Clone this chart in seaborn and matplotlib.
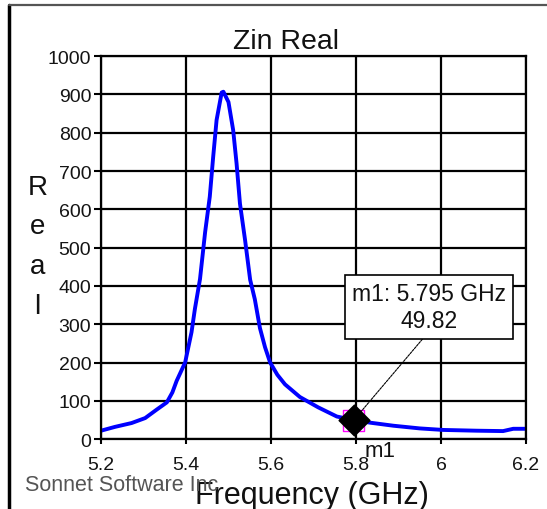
import matplotlib
matplotlib.use("Agg")
import matplotlib.pyplot as plt
from matplotlib.lines import Line2D
import seaborn as sns
import pandas as pd

# Real part of input impedance vs frequency
freq_ghz = [5.200, 5.233, 5.272, 5.304, 5.331, 5.355, 5.368, 5.378, 5.388, 5.398,
            5.413, 5.421, 5.433, 5.445, 5.456, 5.464, 5.472, 5.484, 5.488, 5.500,
            5.511, 5.519, 5.527, 5.539, 5.551, 5.562, 5.574, 5.586, 5.598, 5.615,
            5.633, 5.668, 5.711, 5.755, 5.795, 5.833, 5.888, 5.950, 6.005, 6.084,
            6.146, 6.170, 6.200]
zin_real = [22, 32, 42, 55, 77, 96, 122, 152, 176, 200,
            279, 340, 418, 540, 633, 737, 833, 905, 907, 880,
            807, 720, 615, 520, 416, 365, 290, 240, 200, 168,
            143, 110, 83, 59, 49.82, 43, 35, 28, 24, 22,
            21, 27, 27]

marker_name = "m1"
marker_freq = 5.795
marker_value = 49.82

x_ticks = [5.2, 5.4, 5.6, 5.8, 6.0, 6.2]
x_tick_labels = ["5.2", "5.4", "5.6", "5.8", "6", "6.2"]
y_ticks = [0, 100, 200, 300, 400, 500, 600, 700, 800, 900, 1000]

title = "Zin Real"
x_label = "Frequency (GHz)"
y_label = "Real"
credit = "Sonnet Software Inc"

df = pd.DataFrame({"Frequency": freq_ghz, "Real": zin_real})
mk = pd.DataFrame({"Frequency": [marker_freq], "Real": [marker_value]})

sns.set_theme(style="white")
plt.rcParams["font.family"] = ["Liberation Sans", "DejaVu Sans"]

fig = plt.figure(figsize=(5.47, 5.10), dpi=100)
ax = fig.add_axes([0.1846, 0.137, 0.777, 0.751])

sns.lineplot(data=df, x="Frequency", y="Real", ax=ax, color="#0000ff",
             linewidth=2.8, legend=False)

# marker: magenta square outline under a black diamond
sns.scatterplot(data=mk, x="Frequency", y="Real", ax=ax, marker="s", s=230,
                facecolor="none", edgecolor="#ff00ff", linewidth=1.0, zorder=4,
                legend=False)
sns.scatterplot(data=mk, x="Frequency", y="Real", ax=ax, marker="D", s=240,
                color="black", edgecolor="black", zorder=5, legend=False)

ax.set_xlim(5.2, 6.2)
ax.set_ylim(0, 1000)
ax.set_xticks(x_ticks)
ax.set_xticklabels(x_tick_labels)
ax.set_yticks(y_ticks)
ax.grid(True, color="black", linewidth=1.6)
ax.set_axisbelow(True)
for s in ax.spines.values():
    s.set_color("black")
    s.set_linewidth(1.6)
ax.tick_params(axis="both", which="both", direction="out", width=1.5,
               color="black", labelsize=14, labelcolor="#141414", bottom=True, left=True)
ax.tick_params(axis="x", length=3.5, pad=9)
ax.tick_params(axis="y", length=5, pad=2)

ax.set_xlabel("")
ax.set_ylabel("")
fig.text(0.523, 1 - 49 / 510, title, fontsize=20.5, ha="center", va="baseline",
         color="#111111")

fig.text(0.571, 0.012, x_label, fontsize=22, ha="center", va="baseline",
         color="#111111")
# vertical stacked axis label, one letter per row
for i, ch in enumerate(y_label):
    fig.text(0.069, 1 - (195 + 39.5 * i) / 510, ch, fontsize=20, ha="center",
             va="baseline", color="#111111")
fig.text(0.046, 0.038, credit, fontsize=15.5, ha="left", va="baseline",
         color="#555555")

# marker readout box with leader line
ax.annotate(f"{marker_name}: {marker_freq:.3f} GHz\n{marker_value:.2f}",
            xy=(marker_freq, marker_value), xytext=(5.971, 345),
            textcoords="data", ha="center", va="center", fontsize=16.5,
            color="#111111", linespacing=1.2,
            bbox=dict(boxstyle="square,pad=0.3", fc="white", ec="black", lw=1.2),
            arrowprops=dict(arrowstyle="-", color="black", lw=0.8, linestyle=(0, (2, 1)),
                            shrinkA=0, shrinkB=0, relpos=(0.5, 0.0)),
            zorder=6)
ax.annotate(marker_name, xy=(marker_freq, 0), xytext=(7.5, -12.5),
            textcoords="offset points", ha="left", va="baseline", fontsize=16,
            color="#111111", annotation_clip=False)

# outer frame edges
fig.add_artist(Line2D([0.0165, 0.0165], [0.0, 0.988], transform=fig.transFigure,
                      color="black", linewidth=2.5))
fig.add_artist(Line2D([0.0165, 1.0], [0.988, 0.988], transform=fig.transFigure,
                      color="#555555", linewidth=1.6))

fig.savefig("out.png", dpi=100, facecolor="white")
